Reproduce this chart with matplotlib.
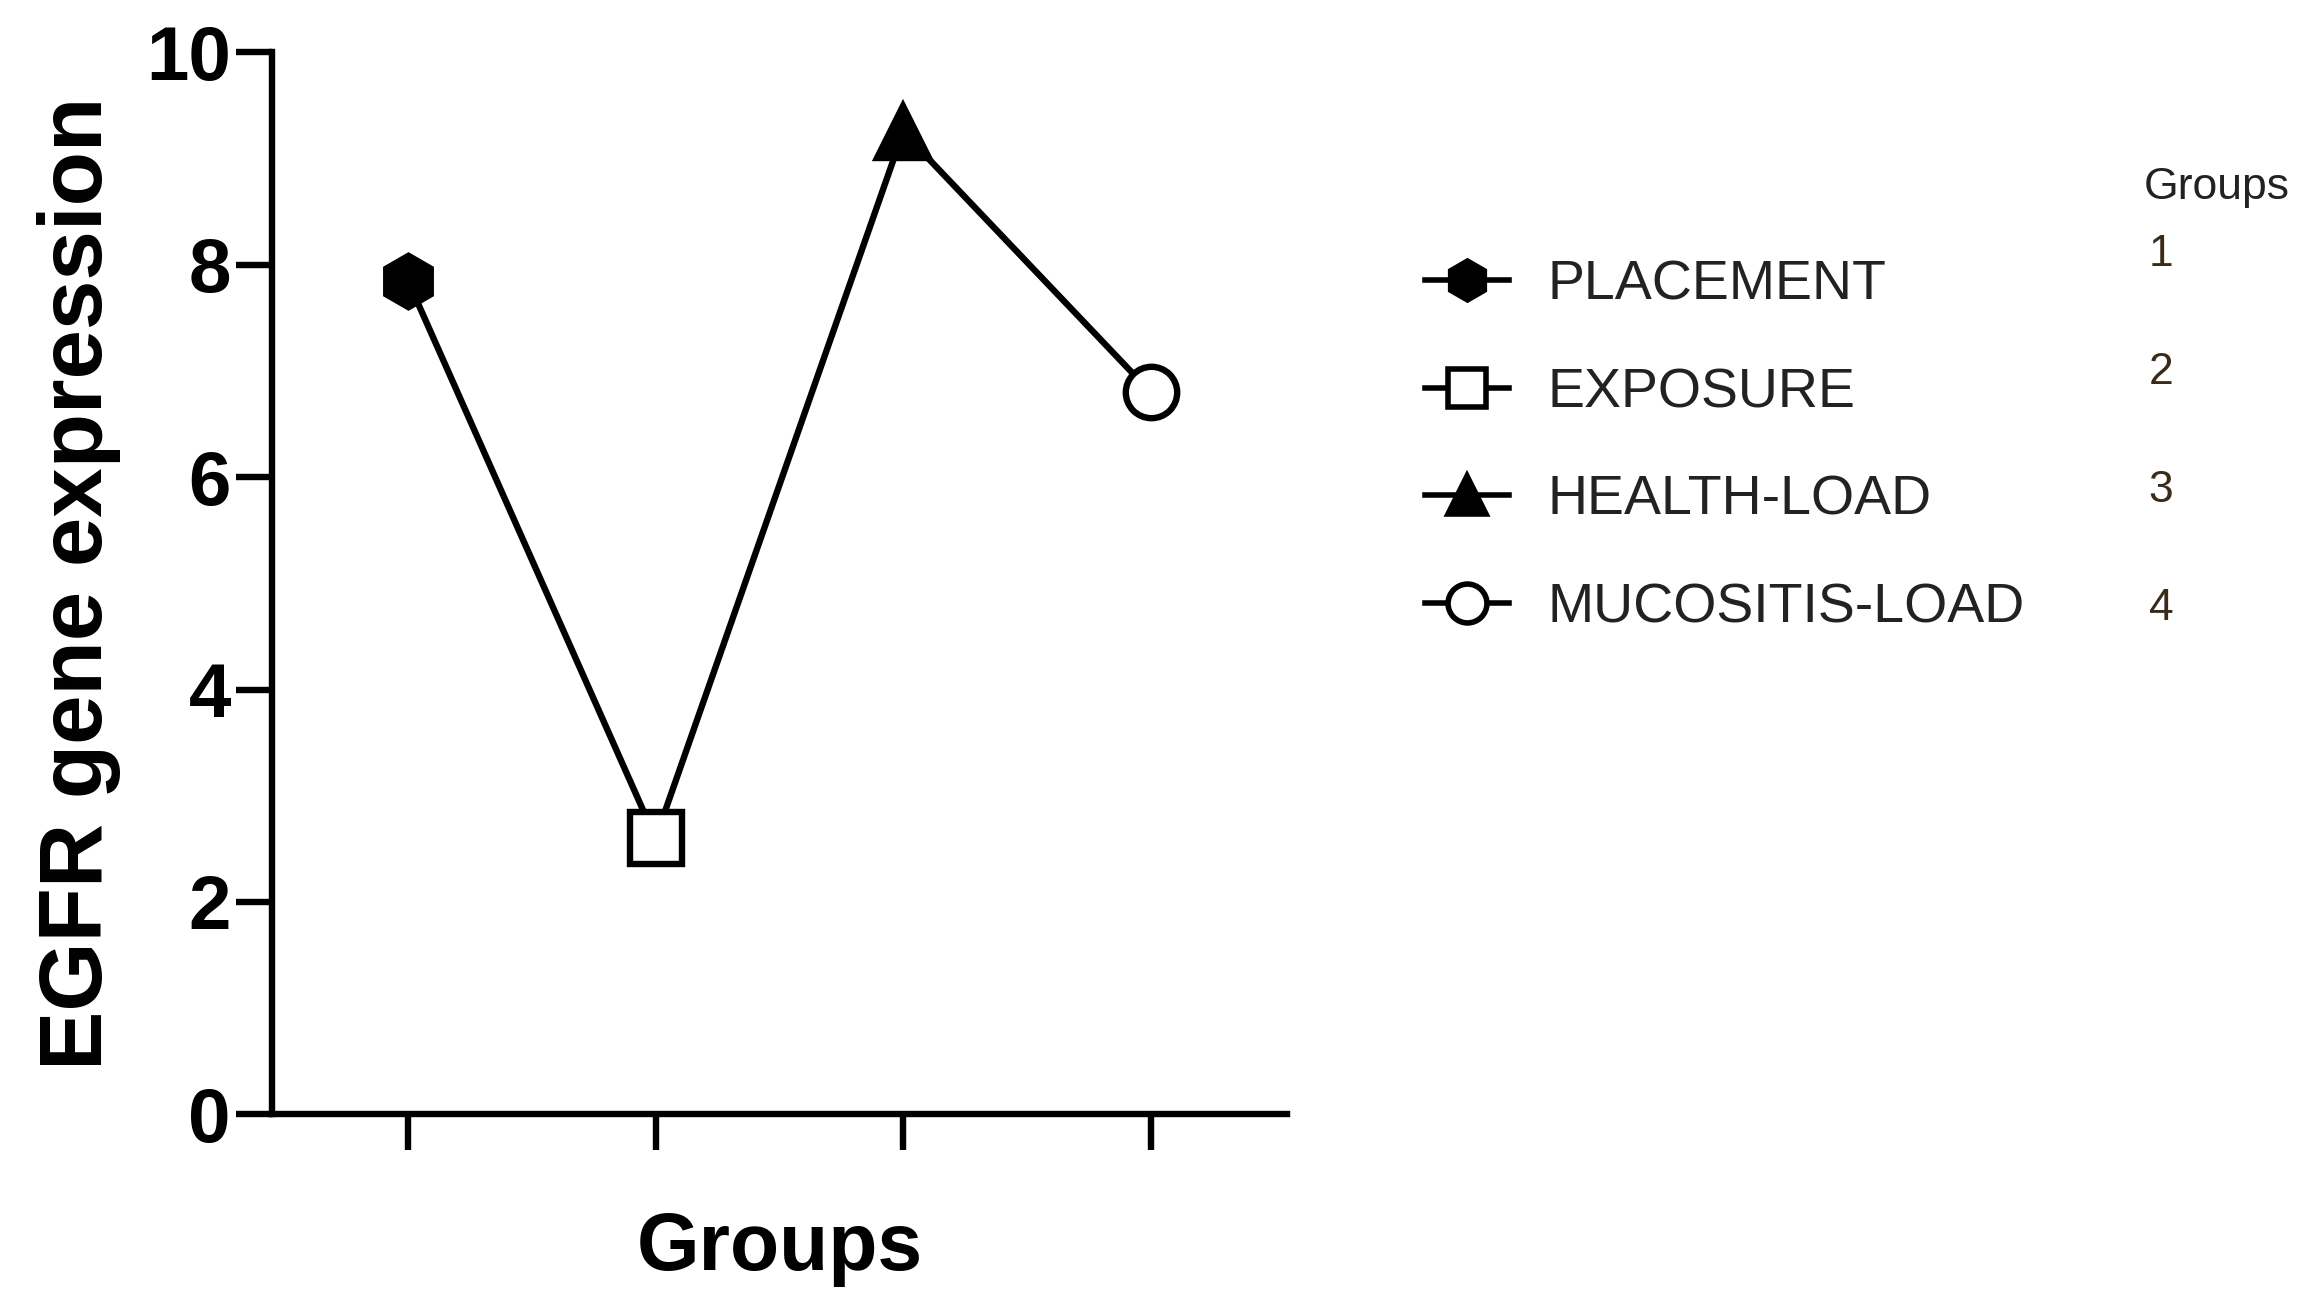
import matplotlib
matplotlib.use("Agg")
import matplotlib.pyplot as plt
from matplotlib.lines import Line2D

groups = ["PLACEMENT", "EXPOSURE", "HEALTH-LOAD", "MUCOSITIS-LOAD"]
group_nums = ["1", "2", "3", "4"]
values = [7.85, 2.6, 9.25, 6.8]
markers = ["h", "s", "^", "o"]
fills = ["black", "white", "black", "white"]
positions = [1, 2, 3, 4]

plt.rcParams['font.family'] = ['Liberation Sans', 'DejaVu Sans']
fig = plt.figure(figsize=(23.23, 13.11), dpi=100)
ax = fig.add_axes([0.117, 0.15, 0.437, 0.81])
lw = 4.6
ax.plot(positions, values, color="black", lw=lw, zorder=1)
for x, v, m, f in zip(positions, values, markers, fills):
    ax.plot([x], [v], marker=m, markersize=37, markerfacecolor=f,
            markeredgecolor="black", markeredgewidth=lw, zorder=2, clip_on=False)
ax.set_xlim(0.45, 4.55)
ax.set_ylim(0, 10)
ax.set_yticks([0, 2, 4, 6, 8, 10])
ax.set_xticks(positions)
ax.set_xticklabels([])
for s in ["top", "right"]:
    ax.spines[s].set_visible(False)
for s in ["left", "bottom"]:
    ax.spines[s].set_linewidth(lw)
ax.tick_params(width=lw, length=26, labelsize=55)
for t in ax.get_yticklabels():
    t.set_fontweight("bold")
ax.set_ylabel("EGFR gene expression", fontsize=64, fontweight="bold", labelpad=18)
ax.set_xlabel("Groups", fontsize=58, fontweight="bold", labelpad=40)

handles = [Line2D([0], [0], color="black", lw=4, marker=m, markersize=28,
                  markerfacecolor=f, markeredgecolor="black", markeredgewidth=4)
           for m, f in zip(markers, fills)]
fig.legend(handles, groups, loc="upper left", bbox_to_anchor=(0.592, 0.84),
           frameon=False, fontsize=40, handlelength=1.5, labelspacing=1.0,
           handletextpad=0.7, labelcolor="#222222")
fig.text(0.923, 0.848, "Groups", fontsize=32, color="#222222")
for i, n in enumerate(group_nums):
    fig.text(0.925, 0.797 - i * 0.09, n, fontsize=32, color="#3a2a1a")

fig.savefig("out.png", dpi=100)
